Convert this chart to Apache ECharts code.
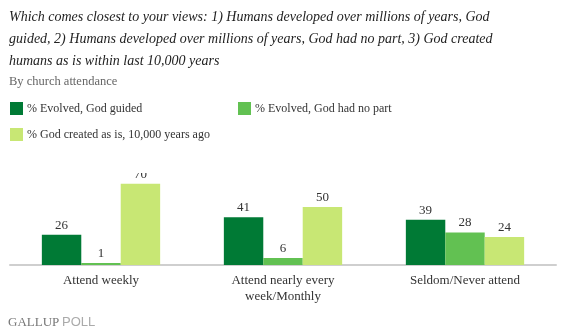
<!DOCTYPE html>
<html>
<head>
<meta charset="utf-8">
<script src="https://cdn.jsdelivr.net/npm/echarts@6/dist/echarts.min.js"></script>
<style>
  html, body { margin: 0; padding: 0; background: #fff; }
  #chart { width: 563px; height: 336px; }
</style>
</head>
<body>
<div id="chart"></div>
<script>
// Survey: views on human origins, by church attendance (percent)
const categories = ['Attend weekly', 'Attend nearly every\nweek/Monthly', 'Seldom/Never attend'];
const seriesNames = ['% Evolved, God guided', '% Evolved, God had no part', '% God created as is, 10,000 years ago'];
const godGuided = [26, 41, 39];
const noGod = [1, 6, 28];
const created = [70, 50, 24];
const titleLines = [
  'Which comes closest to your views: 1) Humans developed over millions of years, God',
  'guided, 2) Humans developed over millions of years, God had no part, 3) God created',
  'humans as is within last 10,000 years'
];
const subtitle = 'By church attendance';

const colors = ['#007a35', '#62c152', '#c8e774'];
const serif = '"Liberation Serif", "DejaVu Serif", serif';

const chart = echarts.init(document.getElementById('chart'), null, { renderer: 'canvas' });

function barSeries(name, data, color) {
  return {
    name: name,
    type: 'bar',
    data: data,
    barGap: '0%',
    barCategoryGap: '35%',
    barMinHeight: 2,
    itemStyle: { color: color },
    label: {
      show: true,
      position: 'top',
      distance: 3,
      color: '#333',
      fontFamily: serif,
      fontSize: 13
    }
  };
}

const legendBase = {
  itemWidth: 13,
  itemHeight: 13,
  itemGap: 8,
  icon: 'rect',
  selectedMode: false,
  textStyle: { fontFamily: serif, fontSize: 12, color: '#333', padding: [0, 0, 0, -1] },
  padding: 0
};

chart.setOption({
  backgroundColor: '#fff',
  animation: false,
  color: colors,
  legend: [
    Object.assign({}, legendBase, { data: [seriesNames[0]], left: 10, top: 102 }),
    Object.assign({}, legendBase, { data: [seriesNames[1]], left: 238, top: 102 }),
    Object.assign({}, legendBase, { data: [seriesNames[2]], left: 10, top: 128 })
  ],
  grid: { left: 10, right: 7, top: 172, bottom: 71, containLabel: false },
  xAxis: {
    type: 'category',
    data: categories,
    axisLine: { show: true, lineStyle: { color: '#cfcfcf', width: 2 } },
    axisTick: { show: false },
    axisLabel: {
      color: '#333',
      fontFamily: serif,
      fontSize: 13,
      margin: 8,
      lineHeight: 16
    }
  },
  yAxis: {
    type: 'value',
    min: 0,
    max: 80,
    show: false,
    splitLine: { show: false }
  },
  series: [
    barSeries(seriesNames[0], godGuided, colors[0]),
    barSeries(seriesNames[1], noGod, colors[1]),
    barSeries(seriesNames[2], created, colors[2])
  ],
  graphic: [
    // band above the plot area: values taller than the axis range get cut off here
    {
      type: 'rect', left: 0, top: 146, z: 100, silent: true,
      shape: { width: 563, height: 27 },
      style: { fill: '#fff' }
    },
    {
      type: 'text', left: 9, top: 6, z: 101,
      style: {
        text: titleLines.join('\n'),
        fill: '#222',
        font: 'italic 14px ' + serif,
        lineHeight: 22
      }
    },
    {
      type: 'text', left: 9, top: 75, z: 101,
      style: { text: subtitle, fill: '#666', font: '12.5px ' + serif }
    },
    {
      type: 'text', left: 8, top: 316, z: 101,
      style: { text: 'GALLUP', fill: '#777', font: '13px ' + serif }
    },
    {
      type: 'text', left: 62, top: 316, z: 101,
      style: { text: 'POLL', fill: '#aaa', font: '13px "Liberation Sans", Arial, sans-serif' }
    }
  ]
});
</script>
</body>
</html>
